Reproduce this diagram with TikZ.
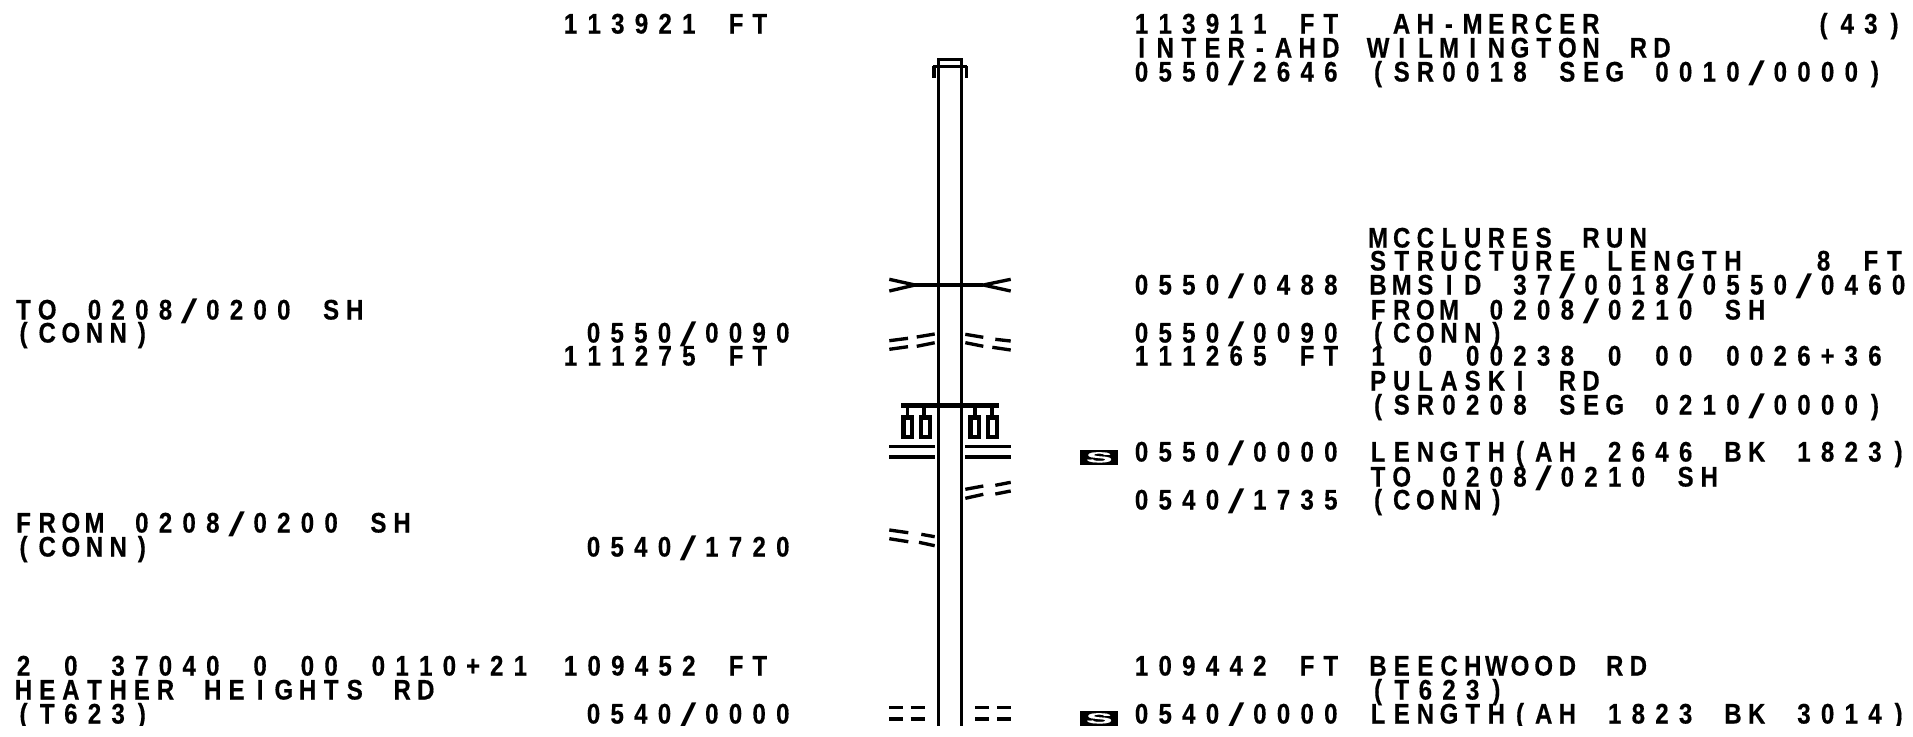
\documentclass[tikz,border=0pt]{standalone}
\usepackage{fontspec}
\usepackage{graphicx}
\newfontfamily\roadfont[FakeStretch=0.85,FakeBold=0.4]{Liberation Sans}
\newfontfamily\slashfont{Liberation Sans}
\ExplSyntaxOn
\cs_new_protected:Npn \cells_row:n #1
  {
    \str_map_inline:nn {#1}
      {
        \makebox[0.2365cm]
          { \str_case:nnF {##1} { {/} { \raisebox{-1.2pt}{\scalebox{2.1}[1.2]{\slashfont\mdseries/}} } } {##1} }
      }
  }
\NewDocumentCommand \cells { m } { \exp_args:No \cells_row:n {#1} }
\ExplSyntaxOff
\tikzset{
  lbl/.style={anchor=base west, inner sep=0pt, font=\roadfont\bfseries\fontsize{8.05}{10}\selectfont},
  roadline/.style={line width=0.7pt},
  wing/.style={line width=0.95pt},
  lamp/.style={draw, line width=1.15pt, fill=white},
  sicon/.style={anchor=north west, fill=black, text=white, inner sep=0pt, minimum width=0.384cm, minimum height=0.153cm, font=\roadfont\bfseries\fontsize{8.35}{10}\selectfont}
}

\begin{document}
\begin{tikzpicture}[x=0.01cm, y=-0.01cm]
    \useasboundingbox (0,0) rectangle (1913,736);

    % Left column
    \foreach \nm/\x/\y/\t in {
      ltop/558/33.5/{113921 FT},
      lto/11/319.5/{TO 0208/0200 SH},
      ltoc/11/342.5/{(CONN)},
      lmpa/581/342.5/{0550/0090},
      lfta/558/365.5/{111275 FT},
      lfrom/11/532.5/{FROM 0208/0200 SH},
      lfromc/11/556.5/{(CONN)},
      lmpb/581/556.5/{0540/1720},
      lrte/11/675.5/{2 0 37040 0 00 0110+21},
      lftb/558/675.5/{109452 FT},
      lhth/11/699.5/{HEATHER HEIGHTS RD},
      ltsix/11/723.5/{(T623)},
      lmpc/581/723.5/{0540/0000}} {
      \node[lbl] (\nm) at (\x,\y) {\cells{\t}};
    }

    % Right column, mileposts
    \foreach \nm/\y/\t in {
      mft/33.5/{113911 FT},
      mint/57.5/{INTER-AHD},
      mseg/81.5/{0550/2646},
      mbr/294.5/{0550/0488},
      mcn/342.5/{0550/0090},
      mftb/365.5/{111265 FT},
      mzero/461.5/{0550/0000},
      mend/509.5/{0540/1735},
      mftc/675.5/{109442 FT},
      mlast/723.5/{0540/0000}} {
      \node[lbl] (\nm) at (1129,\y) {\cells{\t}};
    }

    % Right column, descriptions
    \foreach \nm/\y/\t in {
      dwil/57.5/{WILMINGTON RD},
      dsr/81.5/{(SR0018 SEG 0010/0000)},
      dmcc/247.5/{MCCLURES RUN},
      dstr/270.5/{STRUCTURE LENGTH},
      dbms/294.5/{BMSID 37/0018/0550/0460},
      dfrom/319.5/{FROM 0208/0210 SH},
      dcon/342.5/{(CONN)},
      drte/365.5/{1 0 00238 0 00 0026+36},
      dpul/390.5/{PULASKI RD},
      dsrb/414.5/{(SR0208 SEG 0210/0000)},
      dlen/461.5/{LENGTH(AH 2646 BK 1823)},
      dto/486.5/{TO 0208/0210 SH},
      dconb/509.5/{(CONN)},
      dbee/675.5/{BEECHWOOD RD},
      dtsix/699.5/{(T623)},
      dlenb/723.5/{LENGTH(AH 1823 BK 3014)}} {
      \node[lbl] (\nm) at (1365.5,\y) {\cells{\t}};
    }
    \node[lbl] (dmer) at (1389,33.5) {\cells{AH-MERCER}};
    \node[lbl] (dnum) at (1811,33.5) {\cells{(43)}};
    \node[lbl] (dft) at (1811,270.5) {\cells{8 FT}};

    % Road
    \draw[roadline] (938.3,66) -- (938.3,726);
    \draw[roadline] (961.3,66) -- (961.3,726);
    \draw[roadline] (938.3,66) -- (938.3,59.5) -- (961.3,59.5) -- (961.3,66);
    \draw[roadline] (933,66.7) -- (967,66.7);
    \fill (931.7,66) rectangle (936,77.7);
    \fill (964.7,66) rectangle (968.3,77.7);

    % Bridge
    \draw[wing] (915,285) -- (983.3,285);
    \draw[wing] (889.3,279.3) -- (915,285) -- (889.3,291);
    \draw[wing] (1010.7,279.3) -- (983.3,285) -- (1010.7,291);

    % Broken edge lines
    \foreach \xa/\ya/\xb/\yb in {
      889.3/340.7/908/338.3, 889.3/349.3/908/346.7,
      916.7/337/934.7/334, 916.7/346.3/934.7/342.7,
      965.3/334.3/983.3/337.3, 965.3/342.7/983.3/346.3,
      995.3/339.3/1010.7/341, 992.3/347.3/1010.7/350,
      965.3/489.3/983.3/486, 965.3/498.3/983.3/494.3,
      995.3/485.3/1010.7/482.3, 995.3/494/1010.7/491,
      889.3/530/908.3/532.7, 889.3/538.7/908.3/541.7,
      921.3/534.3/934.7/536.7, 919/542.3/934.7/545.7,
      889.3/707.7/903/707.7, 889.3/719/903/719,
      910.7/707.7/924.7/707.7, 910.7/719/924.7/719,
      975.3/707.7/989.3/707.7, 975.3/719/989.3/719,
      997/707.7/1011/707.7, 997/719/1011/719,
      889.3/446.7/934.7/446.7, 889.3/457/934.7/457,
      965.3/446.7/1010.7/446.7, 965.3/457/1010.7/457} {
      \draw[wing] (\xa,\ya) -- (\xb,\yb);
    }

    % Signal
    \fill (901,403.2) rectangle (998.7,408.2);
    \foreach \xs/\xa/\xb in {907.7/903.5/912, 924/920.8/929.6, 975/970.5/979.2, 992/988/996.9} {
      \draw[wing] (\xs,405) -- (\xs,416);
      \draw[lamp] (\xa,417.5) rectangle (\xb,436.8);
    }

    % Section marks
    \node[sicon] (sa) at (1079.3,449) {\scalebox{1.6}[0.5]{S}};
    \node[sicon] (sb) at (1079.3,710) {\scalebox{1.6}[0.5]{S}};

    % Bottom edge
    \fill[white] (0,726) rectangle (1913,736);
\end{tikzpicture}
\end{document}
